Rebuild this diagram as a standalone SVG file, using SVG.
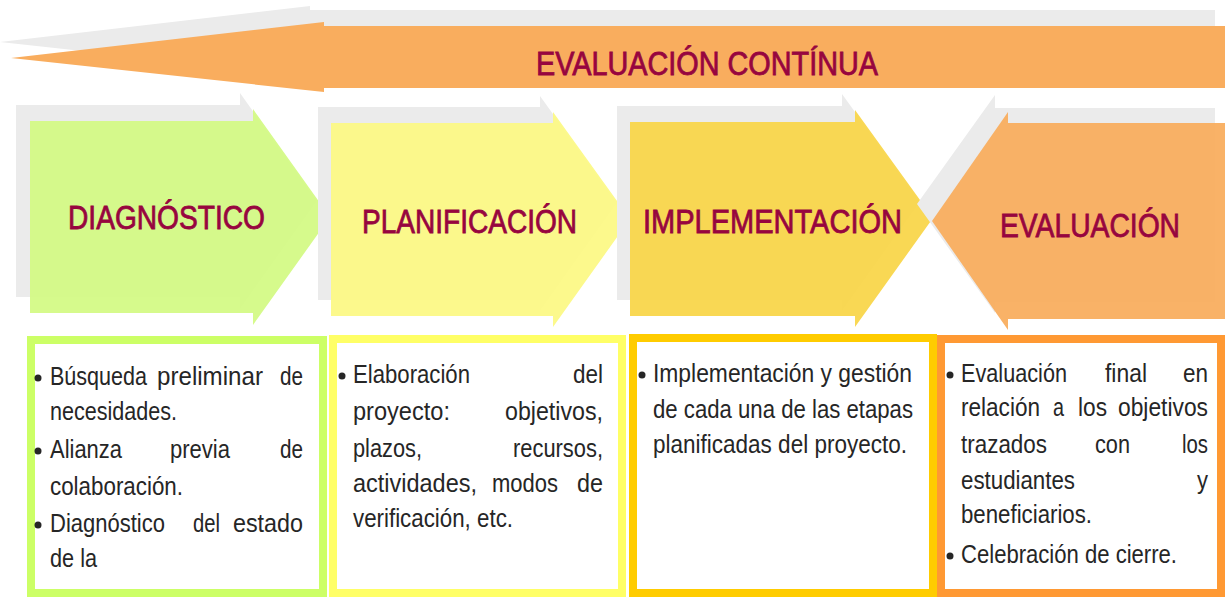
<svg xmlns="http://www.w3.org/2000/svg" width="1225" height="597" viewBox="0 0 1225 597">
<style>
.sh{fill:#EBEBEB}
.hd{font-family:"Liberation Sans",Arial,sans-serif;fill:#97053F;stroke:#97053F;stroke-width:0.8;font-size:33px}
.tx{font-family:"Liberation Sans",Arial,sans-serif;fill:#262626;font-size:25px}
.bx{fill:#FFFFFF;stroke-width:8}
.bl{fill:#262626}
</style>
<rect width="1225" height="597" fill="#FFFFFF"/>
<g id="banner">
<path class="sh" d="M0,42 L310,6 V10 H1215 V72 H310 V76 Z"/>
<path fill="#F9AD5E" d="M11,58 L324,22 V26 H1225 V88 H324 V92 Z"/>
<text class="hd" x="536" y="75" font-size="37" textLength="342" lengthAdjust="spacingAndGlyphs">EVALUACIÓN CONTÍNUA</text>
</g>
<g id="diagnostico">
<path class="sh" d="M16,105 H240 V93 L317,201 L240,309 V297 H16 Z"/>
<path fill="#D4FA86" fill-opacity="0.95" d="M30,121 H253 V109 L330,217 L253,325 V313 H30 Z"/>
<text class="hd" x="68" y="229" textLength="197" lengthAdjust="spacingAndGlyphs">DIAGNÓSTICO</text>
</g>
<g id="planificacion">
<path class="sh" d="M318,107 H540 V96 L617,203 L540,311 V300 H318 Z"/>
<path fill="#FCF986" fill-opacity="0.95" d="M331,123 H553 V112 L630,219 L553,327 V316 H331 Z"/>
<text class="hd" x="362" y="233" textLength="215" lengthAdjust="spacingAndGlyphs">PLANIFICACIÓN</text>
</g>
<g id="implementacion">
<path class="sh" d="M617,106 H842 V94 L920,202 L842,311 V300 H617 Z"/>
<path fill="#F9D64B" fill-opacity="0.95" d="M630,122 H855 V110 L933,218 L855,327 V316 H630 Z"/>
<text class="hd" x="643" y="233" textLength="259" lengthAdjust="spacingAndGlyphs">IMPLEMENTACIÓN</text>
</g>
<g id="evaluacion">
<path class="sh" d="M1215,108 H995 V95 L917,204 L995,313 V302 H1215 Z"/>
<path fill="#F9AE5F" fill-opacity="0.95" d="M1225,123 H1008 V112 L932,221 L1008,330 V319 H1225 Z"/>
<text class="hd" x="1000" y="237" textLength="180" lengthAdjust="spacingAndGlyphs">EVALUACIÓN</text>
</g>
<g id="connectors"></g>
<g id="box-diagnostico">
<rect class="bx" x="31" y="340" width="292" height="253" stroke="#CCFF66"/>
<circle class="bl" cx="38" cy="378" r="3.5"/>
<circle class="bl" cx="38" cy="451" r="3.5"/>
<circle class="bl" cx="38" cy="525" r="3.5"/>
<g class="tx">
<text x="50" y="385" textLength="97" lengthAdjust="spacingAndGlyphs">Búsqueda</text>
<text x="157" y="385" textLength="106" lengthAdjust="spacingAndGlyphs">preliminar</text>
<text x="280" y="385" textLength="23" lengthAdjust="spacingAndGlyphs">de</text>
<text x="50" y="420" textLength="127" lengthAdjust="spacingAndGlyphs">necesidades.</text>
<text x="50" y="458" textLength="72" lengthAdjust="spacingAndGlyphs">Alianza</text>
<text x="170" y="458" textLength="60" lengthAdjust="spacingAndGlyphs">previa</text>
<text x="280" y="458" textLength="23" lengthAdjust="spacingAndGlyphs">de</text>
<text x="50" y="495" textLength="133" lengthAdjust="spacingAndGlyphs">colaboración.</text>
<text x="50" y="532" textLength="115" lengthAdjust="spacingAndGlyphs">Diagnóstico</text>
<text x="193" y="532" textLength="27" lengthAdjust="spacingAndGlyphs">del</text>
<text x="233" y="532" textLength="70" lengthAdjust="spacingAndGlyphs">estado</text>
<text x="50" y="567" textLength="47" lengthAdjust="spacingAndGlyphs">de la</text>
</g>
</g>
<g id="box-planificacion">
<rect class="bx" x="333" y="339" width="289" height="254" stroke="#FFFF66"/>
<circle class="bl" cx="342" cy="376" r="3.5"/>
<g class="tx">
<text x="353" y="383" textLength="117" lengthAdjust="spacingAndGlyphs">Elaboración</text>
<text x="573" y="383" textLength="30" lengthAdjust="spacingAndGlyphs">del</text>
<text x="353" y="420" textLength="97" lengthAdjust="spacingAndGlyphs">proyecto:</text>
<text x="505" y="420" textLength="98" lengthAdjust="spacingAndGlyphs">objetivos,</text>
<text x="353" y="457" textLength="69" lengthAdjust="spacingAndGlyphs">plazos,</text>
<text x="513" y="457" textLength="90" lengthAdjust="spacingAndGlyphs">recursos,</text>
<text x="353" y="492" textLength="124" lengthAdjust="spacingAndGlyphs">actividades,</text>
<text x="492" y="492" textLength="66" lengthAdjust="spacingAndGlyphs">modos</text>
<text x="577" y="492" textLength="26" lengthAdjust="spacingAndGlyphs">de</text>
<text x="353" y="527" textLength="160" lengthAdjust="spacingAndGlyphs">verificación, etc.</text>
</g>
</g>
<g id="box-implementacion">
<rect class="bx" x="633" y="338" width="300" height="255" stroke="#FFCC00"/>
<circle class="bl" cx="642" cy="375" r="3.5"/>
<g class="tx">
<text x="653" y="382" textLength="259" lengthAdjust="spacingAndGlyphs">Implementación y gestión</text>
<text x="653" y="418" textLength="260" lengthAdjust="spacingAndGlyphs">de cada una de las etapas</text>
<text x="653" y="453" textLength="254" lengthAdjust="spacingAndGlyphs">planificadas del proyecto.</text>
</g>
</g>
<g id="box-evaluacion">
<rect class="bx" x="941" y="339" width="280" height="254" stroke="#FF9933"/>
<circle class="bl" cx="950" cy="375" r="3.5"/>
<circle class="bl" cx="950" cy="556" r="3.5"/>
<g class="tx">
<text x="961" y="382" textLength="106" lengthAdjust="spacingAndGlyphs">Evaluación</text>
<text x="1105" y="382" textLength="42" lengthAdjust="spacingAndGlyphs">final</text>
<text x="1183" y="382" textLength="25" lengthAdjust="spacingAndGlyphs">en</text>
<text x="961" y="416" textLength="79" lengthAdjust="spacingAndGlyphs">relación</text>
<text x="1053" y="416" textLength="11" lengthAdjust="spacingAndGlyphs">a</text>
<text x="1078" y="416" textLength="29" lengthAdjust="spacingAndGlyphs">los</text>
<text x="1118" y="416" textLength="90" lengthAdjust="spacingAndGlyphs">objetivos</text>
<text x="961" y="453" textLength="86" lengthAdjust="spacingAndGlyphs">trazados</text>
<text x="1095" y="453" textLength="35" lengthAdjust="spacingAndGlyphs">con</text>
<text x="1182" y="453" textLength="26" lengthAdjust="spacingAndGlyphs">los</text>
<text x="961" y="489" textLength="114" lengthAdjust="spacingAndGlyphs">estudiantes</text>
<text x="1197" y="489" textLength="11" lengthAdjust="spacingAndGlyphs">y</text>
<text x="961" y="523" textLength="131" lengthAdjust="spacingAndGlyphs">beneficiarios.</text>
<text x="961" y="563" textLength="216" lengthAdjust="spacingAndGlyphs">Celebración de cierre.</text>
</g>
</g>
</svg>
